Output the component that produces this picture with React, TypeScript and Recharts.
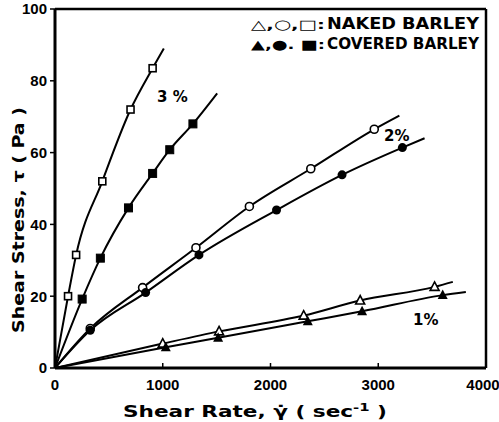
import React from 'react';
import { ComposedChart, Line, Scatter, XAxis, YAxis, ReferenceLine } from 'recharts';

// Shear rate (sec^-1) and shear stress (Pa) readings
const naked3X = [121, 196, 439, 701, 906];
const naked3Y = [20, 31.5, 52, 72, 83.5];
const naked3End = [1010, 89];

const covered3X = [252, 421, 682, 906, 1065, 1280];
const covered3Y = [19.2, 30.6, 44.6, 54.2, 60.8, 68];
const covered3End = [1505, 76.5];

const naked2X = [327, 813, 1308, 1804, 2374, 2963];
const naked2Y = [11, 22.4, 33.5, 45, 55.5, 66.5];
const naked2End = [3196, 70.3];

const covered2X = [327, 841, 1336, 2056, 2664, 3224];
const covered2Y = [10.5, 21, 31.5, 44, 53.8, 61.4];
const covered2End = [3430, 64];

const naked1X = [1000, 1523, 2308, 2832, 3523];
const naked1Y = [6.8, 10.2, 14.6, 18.8, 22.6];
const naked1End = [3692, 24];

const covered1X = [1028, 1514, 2346, 2850, 3598];
const covered1Y = [5.8, 8.4, 13, 15.8, 20.3];
const covered1End = [3813, 21.2];

const xTicks = [0, 1000, 2000, 3000, 4000];
const yTicks = [0, 20, 40, 60, 80, 100];

const pts = (xs: number[], ys: number[]) => xs.map((x, i) => ({ x, y: ys[i] }));
const curve = (xs: number[], ys: number[], end: number[]) => [
  { x: 0, y: 0 },
  ...pts(xs, ys),
  { x: end[0], y: end[1] },
];

const FONT = '"Liberation Sans", Arial, sans-serif';

const OpenSquare = (p: any) => (
  <rect x={p.cx - 3.5} y={p.cy - 3.5} width={7} height={7} fill="#fff" stroke="#000" strokeWidth={1.6} />
);
const FilledSquare = (p: any) => (
  <rect x={p.cx - 4} y={p.cy - 4} width={8} height={8} fill="#000" stroke="#000" />
);
const OpenCircle = (p: any) => (
  <circle cx={p.cx} cy={p.cy} r={4} fill="#fff" stroke="#000" strokeWidth={1.6} />
);
const FilledCircle = (p: any) => <circle cx={p.cx} cy={p.cy} r={4.5} fill="#000" />;
const OpenTri = (p: any) => (
  <polygon
    points={`${p.cx},${p.cy - 5} ${p.cx - 4.5},${p.cy + 3.5} ${p.cx + 4.5},${p.cy + 3.5}`}
    fill="#fff"
    stroke="#000"
    strokeWidth={1.6}
  />
);
const FilledTri = (p: any) => (
  <polygon
    points={`${p.cx},${p.cy - 5.5} ${p.cx - 5},${p.cy + 4} ${p.cx + 5},${p.cy + 4}`}
    fill="#000"
  />
);

const XTick = (props: any) => {
  const { x, y, payload } = props;
  return (
    <g>
      {payload.value > 0 && payload.value < 4000 && (
        <line x1={x} x2={x} y1={y - 10} y2={y - 15} stroke="#000" strokeWidth={1.5} />
      )}
      <text x={x} y={y} dy="0.8em" textAnchor="middle" fontFamily={FONT} fontWeight="bold" fontSize={15} fill="#000">
        {payload.value}
      </text>
    </g>
  );
};

const series = [
  { xs: naked3X, ys: naked3Y, end: naked3End, shape: OpenSquare },
  { xs: covered3X, ys: covered3Y, end: covered3End, shape: FilledSquare },
  { xs: naked2X, ys: naked2Y, end: naked2End, shape: OpenCircle },
  { xs: covered2X, ys: covered2Y, end: covered2End, shape: FilledCircle },
  { xs: naked1X, ys: naked1Y, end: naked1End, shape: OpenTri },
  { xs: covered1X, ys: covered1Y, end: covered1End, shape: FilledTri },
];

const txt = { fontFamily: '"DejaVu Sans", sans-serif', fontWeight: 'bold' as const, fill: '#000' };

export default function App() {
  return (
    <div style={{ position: 'absolute', left: 0, top: 0, width: 499, height: 422, background: '#fff' }}>
      <ComposedChart width={499} height={422} margin={{ top: 9, right: 13, bottom: 24, left: 0 }}>
        <XAxis
          type="number"
          dataKey="x"
          domain={[0, 4000]}
          ticks={xTicks}
          allowDataOverflow
          height={30}
          tickSize={0}
          tickMargin={10}
          tickLine={false}
          axisLine={{ stroke: '#000', strokeWidth: 3 }}
          tick={<XTick />}
        />
        <YAxis
          type="number"
          dataKey="y"
          domain={[0, 100]}
          ticks={yTicks}
          allowDataOverflow
          width={55}
          tickSize={5}
          tickMargin={3}
          tickLine={{ stroke: '#000', strokeWidth: 1.5 }}
          axisLine={{ stroke: '#000', strokeWidth: 3 }}
          tick={{ fill: '#000', fontFamily: FONT, fontWeight: 'bold', fontSize: 15 }}
        />
        <ReferenceLine y={100} stroke="#000" strokeWidth={2.5} />
        <ReferenceLine x={4000} stroke="#000" strokeWidth={2.5} />
        {series.map((s, i) => (
          <Line
            key={'l' + i}
            data={curve(s.xs, s.ys, s.end)}
            dataKey="y"
            type="monotone"
            stroke="#000"
            strokeWidth={2}
            dot={false}
            activeDot={false}
            isAnimationActive={false}
          />
        ))}
        {series.map((s, i) => (
          <Scatter
            key={'s' + i}
            data={pts(s.xs, s.ys)}
            dataKey="y"
            shape={s.shape}
            isAnimationActive={false}
          />
        ))}
      </ComposedChart>
      <svg
        width={499}
        height={422}
        style={{ position: 'absolute', left: 0, top: 0, pointerEvents: 'none' }}
      >
        <text x={251} y={29} fontSize={13} textLength={74} lengthAdjust="spacingAndGlyphs" {...txt}>△,○,□:</text>
        <text x={327} y={29} fontSize={15} textLength={152} lengthAdjust="spacingAndGlyphs" {...txt}>NAKED  BARLEY</text>
        <text x={251} y={49} fontSize={13} textLength={74} lengthAdjust="spacingAndGlyphs" {...txt}>▲,●. ■:</text>
        <text x={327} y={49} fontSize={15} textLength={152} lengthAdjust="spacingAndGlyphs" {...txt}>COVERED BARLEY</text>
        <text x={157} y={102} fontSize={15} {...txt}>3 %</text>
        <text x={384} y={141} fontSize={15} {...txt}>2%</text>
        <text x={413} y={325} fontSize={15} {...txt}>1%</text>
        <text x={123} y={417} fontSize={16} textLength={264} lengthAdjust="spacingAndGlyphs" {...txt}>
          Shear  Rate,  γ̇ ( sec<tspan dy={-6} fontSize={11}>-1</tspan><tspan dy={6}> )</tspan>
        </text>
        <text
          x={0}
          y={0}
          fontSize={16}
          textLength={226}
          lengthAdjust="spacingAndGlyphs"
          transform="translate(24,333) rotate(-90)"
          {...txt}
        >
          Shear  Stress,  τ ( Pa )
        </text>
      </svg>
    </div>
  );
}
